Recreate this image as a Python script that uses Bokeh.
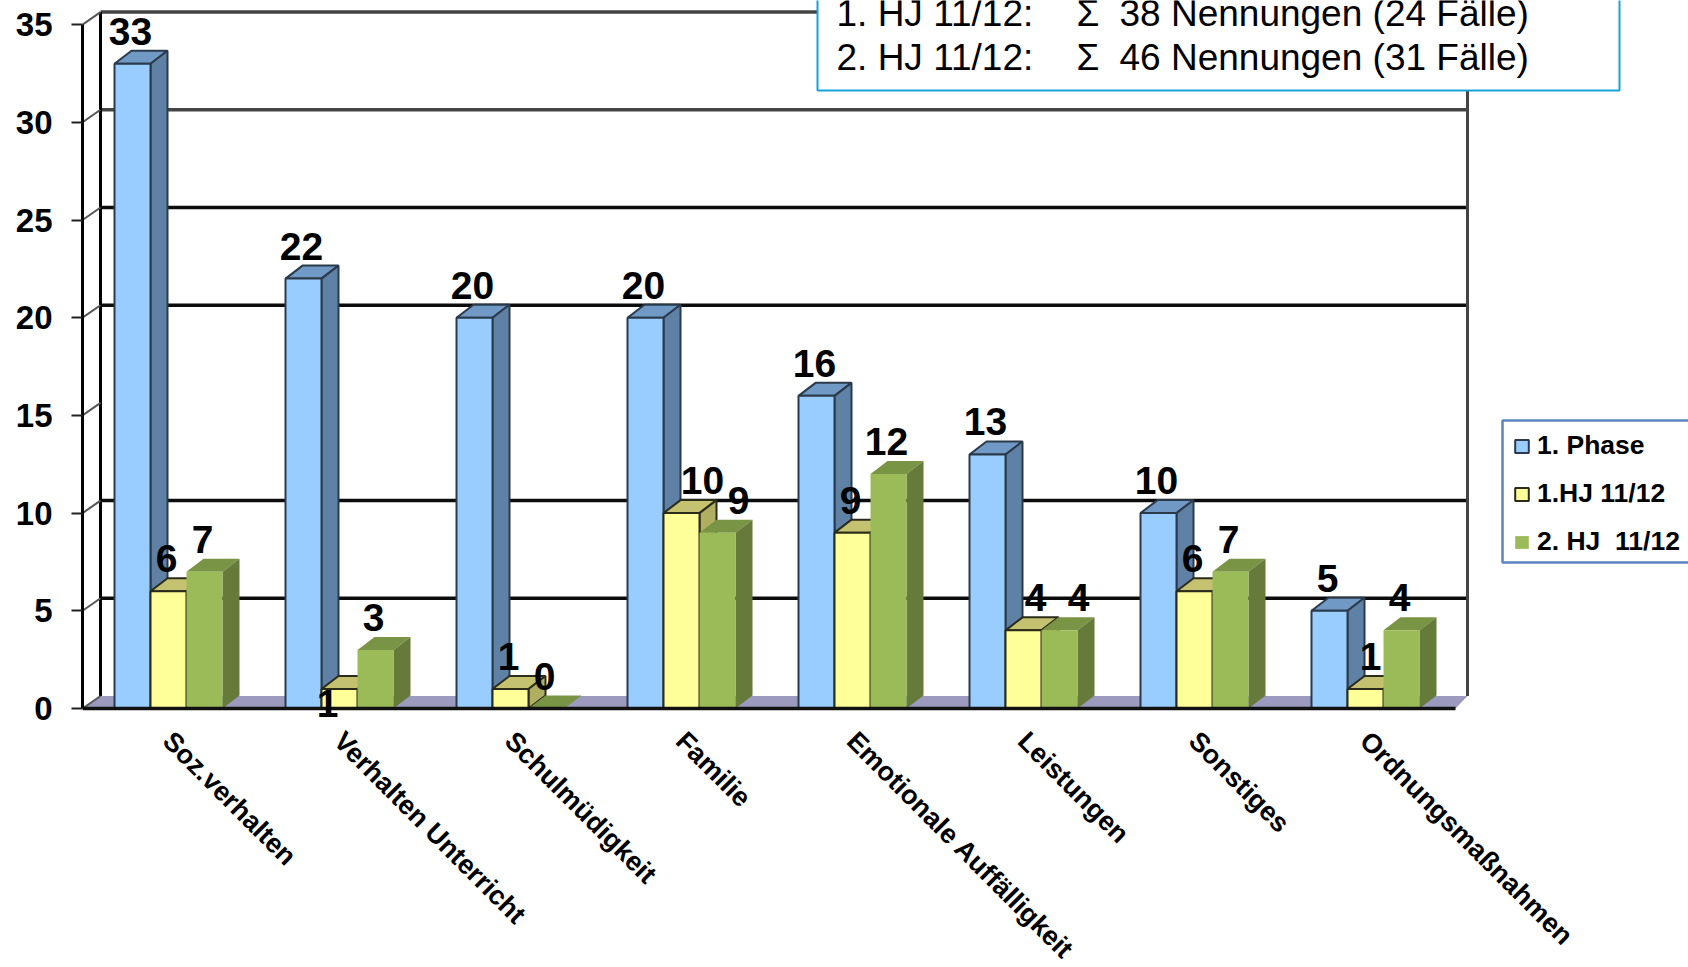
import math

from bokeh.core.properties import value
from bokeh.embed import file_html
from bokeh.models import (BoxAnnotation, ColumnDataSource, FixedTicker, Label,
                          LabelSet, Legend, LegendItem, Range1d)
from bokeh.plotting import figure
from bokeh.resources import INLINE

categories = ["Soz.verhalten", "Verhalten Unterricht", "Schulmüdigkeit", "Familie",
              "Emotionale Auffälligkeit", "Leistungen", "Sonstiges", "Ordnungsmaßnahmen"]
phase_1 = [33, 22, 20, 20, 16, 13, 10, 5]
hj_1 = [6, 1, 1, 10, 9, 4, 6, 1]
hj_2 = [7, 3, 0, 9, 12, 4, 7, 4]
series_names = ["1. Phase", "1.HJ 11/12", "2. HJ  11/12"]
y_ticks = [0, 5, 10, 15, 20, 25, 30, 35]
wall_lines = [5, 10, 20, 25, 30, 35]
summary_rows = [("1. HJ 11/12:", "Σ", "38 Nennungen (24 Fälle)"),
                ("2. HJ 11/12:", "Σ", "46 Nennungen (31 Fälle)")]

# Layout in page pixels
W, H = 1688, 967
AXIS_X, BASE_Y = 82, 708
UNIT_Y = 19.54
STEP_X = 171.0
ANCHOR_X = 167.0          # where the first category label starts
FIRST_BAR_X = 114.0
BAR_W = 36.0
DEPTH_X, DEPTH_Y = 17.0, 13.0
WALL_X, WALL_Y = 18.0, 12.5
FLOOR_RIGHT = 1455.0


def xd(px):
    return (px - ANCHOR_X) / STEP_X


def yd(py):
    return (BASE_Y - py) / UNIT_Y


dx_bar = BAR_W / STEP_X
dx_depth = DEPTH_X / STEP_X
dy_depth = DEPTH_Y / UNIT_Y
dx_wall = WALL_X / STEP_X
dy_wall = WALL_Y / UNIT_Y

# The plot area runs to the page bottom; the category axis is pinned at zero inside it
p = figure(width=W, height=H, frame_width=W - AXIS_X, frame_height=H,
           output_backend="svg", toolbar_location=None,
           x_range=Range1d(xd(AXIS_X), xd(W)), y_range=Range1d(yd(H), yd(0)),
           min_border_left=AXIS_X, min_border_right=0, min_border_top=0,
           min_border_bottom=0, background_fill_color="white",
           border_fill_color="white", outline_line_color=None)
p.xgrid.visible = False
p.ygrid.visible = False

# Floor and back wall of the chart box
left, right = xd(AXIS_X), xd(FLOOR_RIGHT)
p.patch([left, right, right + 12 / STEP_X, left + dx_wall], [0, 0, dy_wall, dy_wall],
        fill_color="#9C9ABE", line_color=None)
p.segment([left + dx_wall] * len(wall_lines), [t + dy_wall for t in wall_lines],
          [right + 12 / STEP_X] * len(wall_lines), [t + dy_wall for t in wall_lines],
          line_color=["#444444" if t >= 30 else "#0c0c0c" for t in wall_lines], line_width=3.5)
p.segment([left + dx_wall, right + 12 / STEP_X], [dy_wall, dy_wall],
          [left + dx_wall, right + 12 / STEP_X], [35 + dy_wall, 35 + dy_wall],
          line_color=["#000000", "#444444"], line_width=3)
p.segment([left] * len(y_ticks), y_ticks, [left + dx_wall] * len(y_ticks),
          [t + dy_wall for t in y_ticks], line_color="#555555", line_width=2)

styles = [
    dict(front="#99CCFF", top="#7099C5", side="#5F81A6", edge="#2a3a4a", width=2),
    dict(front="#FFFF99", top="#C4C270", side="#B0AE60", edge="#2b2b1a", width=2),
    dict(front="#9BBB59", top="#7A9445", side="#667A3A", edge=None, width=0),
]
legend_items = []
label_x, label_y, label_text = [], [], []
for s, (vals, st) in enumerate(zip((phase_1, hj_1, hj_2), styles)):
    x0 = [xd(FIRST_BAR_X) + i + s * dx_bar for i in range(len(vals))]
    x1 = [x + dx_bar for x in x0]
    p.patches([[a, b, b + dx_depth, a + dx_depth] for a, b in zip(x0, x1)],
              [[v, v, v + dy_depth, v + dy_depth] for v in vals],
              fill_color=st["top"], line_color=st["edge"], line_width=st["width"])
    p.patches([[b, b + dx_depth, b + dx_depth, b] for b in x1],
              [[0, dy_depth, v + dy_depth, v] for v in vals],
              fill_color=st["side"], line_color=st["edge"], line_width=st["width"])
    front = p.quad(left=x0, right=x1, bottom=0, top=vals, fill_color=st["front"],
                   line_color=st["edge"], line_width=st["width"])
    legend_items.append(LegendItem(label=series_names[s], renderers=[front]))
    label_x += [(a + b) / 2 for a, b in zip(x0, x1)]
    label_y += list(vals)
    label_text += [str(v) for v in vals]

# Value labels sit just above each column; a few are moved sideways to stay legible
nudges = {(1, 1): (-12, -47), (3, 1): (21, 0), (3, 2): (21, 0), (5, 1): (12, 0),
          (5, 2): (19, 0), (7, 1): (5, 0)}
n_cat = len(categories)
x_off = [nudges.get((k % n_cat, k // n_cat), (-2, 0))[0] for k in range(3 * n_cat)]
y_off = [DEPTH_Y + 6 + nudges.get((k % n_cat, k // n_cat), (0, 0))[1] for k in range(3 * n_cat)]
labels = ColumnDataSource(dict(x=label_x, y=label_y, text=label_text, dx=x_off, dy=y_off))
p.add_layout(LabelSet(x="x", y="y", text="text", source=labels, x_offset="dx", y_offset="dy",
                      text_align="center", text_baseline="alphabetic", text_color="black",
                      text_font=value("Liberation Sans"), text_font_style="bold",
                      text_font_size="39px"))

# Axes
ya = p.yaxis[0]
ya.ticker = FixedTicker(ticks=y_ticks)
ya.bounds = (0, 35)
ya.axis_line_color = "black"
ya.axis_line_width = 3
ya.major_tick_line_color = "#222222"
ya.major_tick_line_width = 2
ya.major_tick_out = 11
ya.major_tick_in = 0
ya.minor_tick_line_color = None
ya.major_label_standoff = 19
ya.major_label_text_font = "Liberation Sans"
ya.major_label_text_font_style = "bold"
ya.major_label_text_font_size = "33px"
ya.major_label_text_color = "black"

xa = p.xaxis[0]
xa.fixed_location = 0
xa.ticker = FixedTicker(ticks=list(range(n_cat)))
xa.major_label_overrides = {i: c for i, c in enumerate(categories)}
xa.major_label_orientation = -math.pi / 4
xa.bounds = (left, right)
xa.axis_line_color = "#111111"
xa.axis_line_width = 3.5
xa.major_tick_line_color = None
xa.minor_tick_line_color = None
xa.major_label_standoff = 22
xa.major_label_text_font = "Liberation Sans"
xa.major_label_text_font_style = "bold"
xa.major_label_text_font_size = "27px"
xa.major_label_text_color = "black"

# Summary box, running off the top edge
p.add_layout(BoxAnnotation(left=xd(817), right=xd(1619), bottom=yd(90), top=yd(-10),
                           fill_color="white", fill_alpha=1, line_color="#1BA1D8",
                           line_alpha=1, line_width=2))
for row, baseline in zip(summary_rows, (13, 57)):
    for txt, px in zip(row, (836, 1076, 1119)):
        p.add_layout(Label(x=xd(px), y=yd(baseline), text=txt, text_align="left",
                           text_baseline="alphabetic", text_color="black",
                           text_font="Liberation Sans", text_font_size="37px"))

# Legend frame, running off the right edge, with the entries drawn on top
p.add_layout(BoxAnnotation(left=xd(1502), right=xd(1700), bottom=yd(562), top=yd(420),
                           fill_color="white", fill_alpha=1, line_color="#5B85C0",
                           line_alpha=1, line_width=2.5))
legend = Legend(items=legend_items, location=(1513 - AXIS_X, H - 557),
                orientation="vertical", margin=0, padding=10, spacing=17,
                glyph_width=17, glyph_height=16, label_standoff=7,
                label_text_font="Liberation Sans", label_text_font_style="bold",
                label_text_font_size="26.5px", label_text_color="black",
                border_line_color=None, background_fill_alpha=0)
p.add_layout(legend, "center")

open("out.html", "w").write(file_html(p, INLINE))
